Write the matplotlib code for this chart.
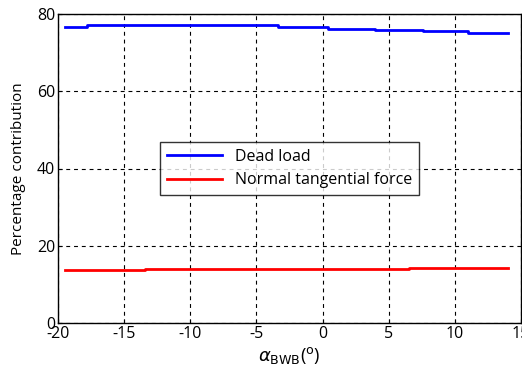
import matplotlib
matplotlib.use("Agg")
import matplotlib.pyplot as plt

# Step data (x, value)
dead_x = [-19.5, -17.8, -17.8, -3.4, -3.4, 0.4, 0.4, 4.0, 4.0, 7.6, 7.6, 11.0, 11.0, 14.0]
dead_y = [76.6, 76.6, 77.1, 77.1, 76.6, 76.6, 76.2, 76.2, 75.9, 75.9, 75.5, 75.5, 75.2, 75.2]
ntf_x = [-19.5, -13.4, -13.4, 6.5, 6.5, 14.0]
ntf_y = [13.6, 13.6, 13.9, 13.9, 14.2, 14.2]

xticks = [-20, -15, -10, -5, 0, 5, 10, 15]
yticks = [0, 20, 40, 60, 80]

plt.rcParams['font.family'] = ['Open Sans', 'DejaVu Sans']
fig = plt.figure(figsize=(5.22, 3.84), dpi=100)
ax = fig.add_axes([58/522, 1-323/384, (521-58)/522, (323-14)/384])

ax.plot(dead_x, dead_y, color='#0000ff', lw=2, label='Dead load')
ax.plot(ntf_x, ntf_y, color='#ff0000', lw=2, label='Normal tangential force')

ax.set_xlim(-20, 15)
ax.set_ylim(0, 80)
ax.set_xticks(xticks)
ax.set_yticks(yticks)
ax.set_xticklabels([str(t) for t in xticks], fontsize=11.5)
ax.set_yticklabels([str(t) for t in yticks], fontsize=11.5)
ax.tick_params(direction='in', length=3, pad=2)
ax.grid(True, color='black', linestyle=(0, (3.5, 3.5)), lw=0.8)
for s in ax.spines.values():
    s.set_linewidth(1)

ax.set_xlabel(r'$\alpha_{\rm BWB}$($^{\rm o}$)', fontsize=13, labelpad=2)
ax.set_ylabel('Percentage contribution', fontsize=11, labelpad=8)

leg = ax.legend(loc='center', fontsize=11.5, frameon=True, fancybox=False,
                edgecolor='black', handlelength=3.5, borderpad=0.4, labelspacing=0.5)
leg.get_frame().set_linewidth(1)

fig.savefig('out.png', dpi=100)
